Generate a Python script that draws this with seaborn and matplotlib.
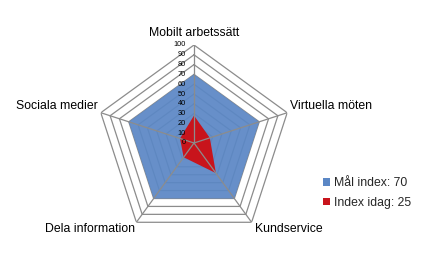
import numpy as np
import matplotlib
matplotlib.use("Agg")
import matplotlib.pyplot as plt
import matplotlib.transforms as mtransforms
from matplotlib.patches import Patch
import seaborn as sns

categories = ["Mobilt arbetssätt", "Virtuella möten", "Kundservice", "Dela information", "Sociala medier"]
mal_index = [70, 70, 70, 70, 70]
index_idag = [28, 17, 38, 18, 15]
series_names = ["Mål index: 70", "Index idag: 25"]
tick_values = [0, 10, 20, 30, 40, 50, 60, 70, 80, 90, 100]

sns.set_style("white")
plt.rcParams['font.family'] = ['Liberation Sans', 'DejaVu Sans']

blue = "#5B87C5"
red = "#C8141C"
grid_col = "#8C8C8C"

W, H = 421, 257
fig = plt.figure(figsize=(W / 100, H / 100), dpi=100)
cx, cy, R = 194, 143, 98
ax = fig.add_axes([(cx - R) / W, (H - cy - R) / H, 2 * R / W, 2 * R / H], projection="polar")
ax.set_theta_offset(np.pi / 2)
ax.set_theta_direction(-1)
ax.set_ylim(0, 100)
ax.grid(False)
ax.set_xticks([])
ax.set_yticks([])
ax.spines["polar"].set_visible(False)
ax.patch.set_alpha(0)

n = len(categories)
angles = np.arange(n) * 2 * np.pi / n
closed = np.concatenate([angles, angles[:1]])

# polygon rings
for v in tick_values[1:]:
    ax.plot(closed, [v] * (n + 1), color=grid_col, lw=0.9, zorder=1)

# series
df_a = np.array(mal_index + mal_index[:1], dtype=float)
df_b = np.array(index_idag + index_idag[:1], dtype=float)
ax.fill(closed, df_a, color=blue, alpha=0.93, lw=0, zorder=2)
ax.fill(closed, df_b, color=red, lw=0, zorder=3)

# spokes
for a in angles:
    ax.plot([a, a], [0, 100], color=grid_col, lw=0.9, zorder=4)

# radial tick labels
off = mtransforms.ScaledTranslation(-8 / 100, 0, fig.dpi_scale_trans)
for v in tick_values:
    ax.text(0, v, str(v), transform=ax.transData + off, ha="right", va="center",
            fontsize=5.3, color="black", zorder=5)

# category labels
label_specs = [
    (0, 6, "center", "bottom"),
    (3, 1, "left", "bottom"),
    (3, -1, "left", "top"),
    (-1, -1, "right", "top"),
    (-3, 1, "right", "bottom"),
]
for i, (cat, (dx, dy, ha, va)) in enumerate(zip(categories, label_specs)):
    o = mtransforms.ScaledTranslation(dx / 100, dy / 100, fig.dpi_scale_trans)
    ax.text(angles[i], 100, cat, transform=ax.transData + o, ha=ha, va=va,
            fontsize=8.8, color="black", clip_on=False)

handles = [Patch(facecolor=blue, edgecolor="none"), Patch(facecolor=red, edgecolor="none")]
fig.legend(handles, series_names, loc="center left", bbox_to_anchor=(323 / W, 1 - 193 / H),
           frameon=False, fontsize=8.8, handlelength=0.55, handleheight=0.55,
           handletextpad=0.35, labelspacing=0.6, borderaxespad=0, borderpad=0)

fig.savefig("out.png", dpi=100)
